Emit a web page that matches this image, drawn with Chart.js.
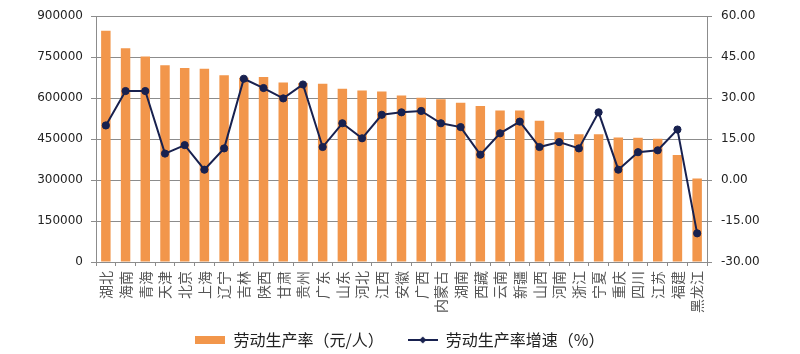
<!DOCTYPE html>
<html>
<head>
<meta charset="utf-8">
<script src="https://cdn.jsdelivr.net/npm/chart.js@4/dist/chart.umd.min.js"></script>
<style>
  html, body { margin: 0; padding: 0; background: #fff; }
  #wrap { width: 800px; height: 354px; }
</style>
</head>
<body>
<div id="wrap"><canvas id="grafico"></canvas></div>
<script>
// 各省劳动生产率及增速
const provincias = ["湖北", "海南", "青海", "天津", "北京", "上海", "辽宁", "吉林", "陕西", "甘肃", "贵州",
  "广东", "山东", "河北", "江西", "安徽", "广西", "内蒙古", "湖南", "西藏", "云南", "新疆", "山西",
  "河南", "浙江", "宁夏", "重庆", "四川", "江苏", "福建", "黑龙江"];
const produtividade = [847000, 783000, 752000, 720000, 710000, 708000, 684000, 675000, 677000, 657000, 655000,
  653000, 634000, 628000, 624000, 610000, 601000, 596000, 583000, 571000, 555000, 555000, 517000,
  475000, 468000, 468000, 456000, 455000, 451000, 392000, 306000];
const crescimento = [20.0, 32.6, 32.6, 9.7, 12.8, 3.8, 11.6, 37.1, 33.7, 29.9, 35.0,
  12.1, 20.8, 15.3, 23.9, 24.8, 25.3, 20.8, 19.4, 9.3, 17.1, 21.4, 12.1,
  13.9, 11.6, 24.8, 3.8, 10.2, 10.9, 18.5, -19.5];
const legendas = ["劳动生产率（元/人）", "劳动生产率增速（%）"];

const laranja = "#F2964B";
const azul = "#18214F";
const cinza = "#8c8c8c";

// icones da legenda
function iconeBarra() {
  const c = document.createElement("canvas");
  c.width = 30; c.height = 8;
  const ctx = c.getContext("2d");
  ctx.fillStyle = laranja;
  ctx.fillRect(0, 0, 30, 8);
  return c;
}
function iconeLinha() {
  const c = document.createElement("canvas");
  c.width = 30; c.height = 8;
  const ctx = c.getContext("2d");
  ctx.strokeStyle = azul;
  ctx.lineWidth = 2;
  ctx.beginPath(); ctx.moveTo(0, 4); ctx.lineTo(30, 4); ctx.stroke();
  ctx.fillStyle = azul;
  ctx.beginPath();
  ctx.moveTo(15, 0.5); ctx.lineTo(18.5, 4); ctx.lineTo(15, 7.5); ctx.lineTo(11.5, 4);
  ctx.closePath(); ctx.fill();
  return c;
}
const icones = [iconeBarra(), iconeLinha()];
// espaco extra entre os itens da legenda
const espacos = ["\u3000\u2002", ""];

new Chart(document.getElementById("grafico"), {
  type: "bar",
  data: {
    labels: provincias,
    datasets: [
      {
        label: legendas[0], data: produtividade, backgroundColor: laranja,
        yAxisID: "y", order: 1, barPercentage: 0.48, categoryPercentage: 1
      },
      {
        type: "line", label: legendas[1], data: crescimento, yAxisID: "y1", order: 0,
        borderColor: azul, backgroundColor: azul, borderWidth: 2, tension: 0,
        pointRadius: 3.6, pointBorderWidth: 1, pointBackgroundColor: azul, pointBorderColor: azul, fill: false
      }
    ]
  },
  options: {
    responsive: true,
    maintainAspectRatio: false,
    animation: false,
    layout: { padding: { top: 14, left: 0, right: 0, bottom: -4 } },
    plugins: {
      tooltip: { enabled: false },
      legend: {
        position: "bottom",
        labels: {
          usePointStyle: true,
          pointStyleWidth: 30,
          padding: 8,
          color: "#222",
          font: { family: "Noto Sans CJK SC", size: 16 },
          generateLabels: chart => chart.data.datasets.map((ds, i) => ({
            text: ds.label + espacos[i], pointStyle: icones[i], fillStyle: "transparent",
            strokeStyle: "transparent", lineWidth: 0, hidden: false, datasetIndex: i, fontColor: "#222"
          }))
        }
      }
    },
    scales: {
      x: {
        grid: { offset: true, drawOnChartArea: false, tickLength: 4, color: cinza },
        border: { color: cinza },
        ticks: {
          autoSkip: false, maxRotation: 90, minRotation: 90, padding: 5, color: "#555",
          font: { family: "Noto Sans CJK SC", size: 14 }
        },
        afterFit: s => { s.height = 62; }
      },
      y: {
        position: "left", min: 0, max: 900000,
        grid: { color: cinza, tickLength: 5 },
        border: { color: cinza },
        ticks: {
          stepSize: 150000, padding: 8, color: "#222",
          font: { family: "DejaVu Sans", size: 12 },
          callback: v => String(v)
        },
        afterFit: s => { s.width = 96; }
      },
      y1: {
        position: "right", min: -30, max: 60,
        grid: { drawOnChartArea: false, color: cinza, tickLength: 5 },
        border: { color: cinza },
        ticks: {
          stepSize: 15, padding: 9, color: "#222",
          font: { family: "DejaVu Sans", size: 12 },
          callback: v => v.toFixed(2)
        },
        afterFit: s => { s.width = 93; }
      }
    }
  }
});
</script>
</body>
</html>
